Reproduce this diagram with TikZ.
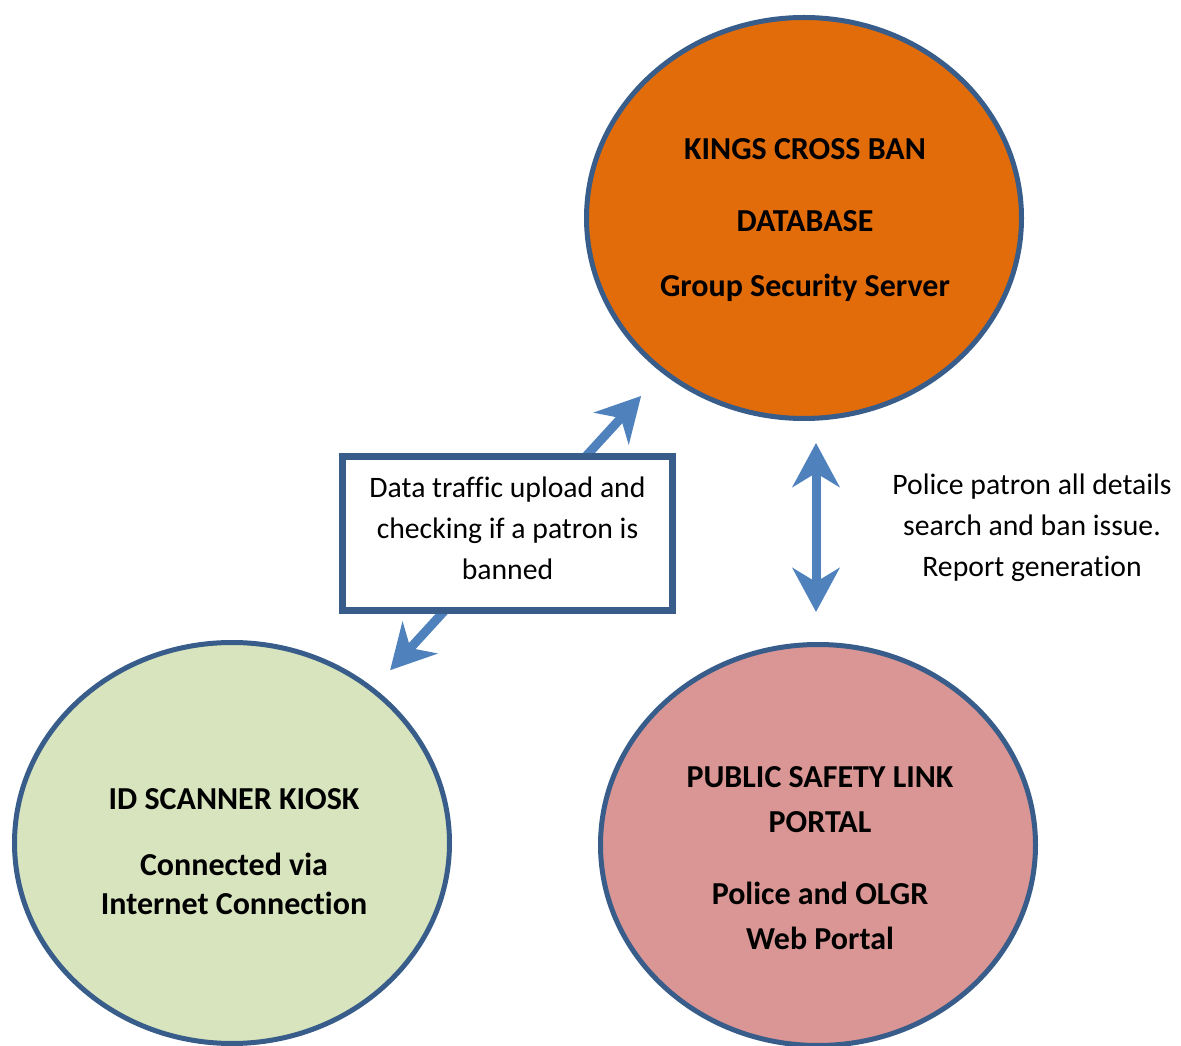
\documentclass[tikz,border=0pt]{standalone}
\usepackage{fontspec}
\setmainfont{Carlito}[Ligatures=NoCommon]
\usetikzlibrary{shapes.geometric, arrows.meta}

\definecolor{rim}{HTML}{385D8A}
\definecolor{flow}{HTML}{4F81BD}
\definecolor{dborange}{HTML}{E36C0A}
\definecolor{kioskgreen}{HTML}{D7E4BD}
\definecolor{portalpink}{HTML}{D99694}

\begin{document}
\begin{tikzpicture}[x=1pt, y=1pt,
    blob/.style={ellipse, draw=rim, line width=5pt, minimum width=435pt, minimum height=401pt, inner sep=0pt},
    heading/.style={align=center, font=\bfseries\fontsize{32}{39}\selectfont},
    note/.style={align=center, font=\fontsize{29.7}{41}\selectfont},
    panel/.style={draw=rim, line width=7pt, fill=white, minimum width=330pt, minimum height=154pt, inner sep=0pt},
    link/.style={draw=flow, line width=9pt,
        {Stealth[length=44pt, width=47pt, inset=14pt]}-{Stealth[length=44pt, width=47pt, inset=14pt]}}]

    \useasboundingbox (0,0) rectangle (1181,1045);

    % Systems
    \node[blob, fill=dborange] (db) at (804,827) {};
    \node[blob, fill=kioskgreen] (kiosk) at (232,202) {};
    \node[blob, fill=portalpink] (portal) at (818,200) {};

    \node[heading] (dbTxt) at (805,825)
        {KINGS CROSS BAN\\[33pt] DATABASE\\[26pt] Group Security Server};
    \node[heading] (kioskTxt) at (234,193)
        {ID SCANNER KIOSK\\[27pt] Connected via\\ Internet Connection};
    \node[heading] (portalTxt) at (820,187)
        {PUBLIC SAFETY LINK\\[6pt] PORTAL\\[33pt] Police and OLGR\\[6pt] Web Portal};

    % Kiosk <-> database
    \draw[link, shorten <=24pt, shorten >=31pt] (kiosk) -- (db);
    \node[panel] (traffic) at (507.5,511.5) {};
    \node[note] (trafficTxt) at ([yshift=5pt]traffic.center)
        {Data traffic upload and\\ checking if a patron is\\ banned};

    % Portal <-> database
    \draw[link, shorten <=22pt, shorten >=30pt] ([xshift=12pt]db.south) -- ([xshift=-2pt]portal.north);
    \node[note] (police) at (1032,517)
        {Police patron all details\\ search and ban issue.\\ Report generation};

\end{tikzpicture}
\end{document}
